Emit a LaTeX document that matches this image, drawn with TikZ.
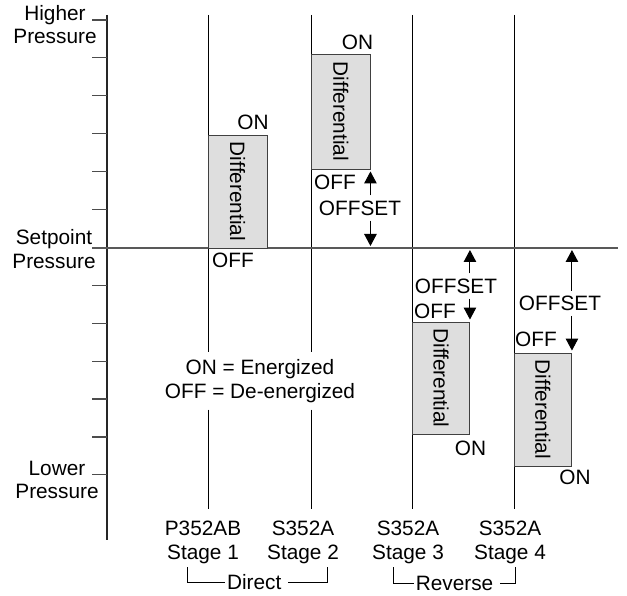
\documentclass[tikz,border=0pt]{standalone}
\usepackage{fontspec}
\setmainfont{Liberation Sans}
\usetikzlibrary{arrows.meta}
\begin{document}
\begin{tikzpicture}[x=1pt,y=-1pt,
  every node/.style={font=\fontsize{20.8}{23.5}\selectfont, inner sep=0pt},
  lbl/.style={align=center},
  axisline/.style={line width=1.3pt, black!85},
  tickline/.style={line width=1.2pt, black!70},
  setline/.style={line width=2pt, black!65},
  stageline/.style={line width=1pt, black},
  bracket/.style={line width=1pt, black},
  diffbox/.style={draw=black!75, line width=0.9pt, fill=black!13},
  arr/.style={line width=1pt, -{Triangle[width=12.5pt,length=12pt]}, shorten >=2pt},
]
\useasboundingbox (0,0) rectangle (627,596);

% axis and ticks
\coordinate (axtop) at (107,15);
\coordinate (axbot) at (107,540);
\draw[axisline] (axtop) -- (axbot);
\foreach \k in {0,1,2,3,4,5,7,8,9,10,11,12}
  \draw[tickline] (92,{20+37.9*\k}) -- (107,{20+37.9*\k});

% setpoint line
\coordinate (spL) at (92,248);
\coordinate (spR) at (618,248);

% axis labels
\node[lbl] (hp) at (55,24.8) {Higher\\Pressure};
\node[lbl] (sp) at (54,249) {Setpoint\\Pressure};
\node[lbl] (lp) at (57,480) {Lower\\Pressure};

% legend
\node[lbl, inner ysep=7pt, inner xsep=2pt] (legend) at (260,381) {ON = Energized\\OFF = De-energized};

% stage lines
\coordinate (t1) at (208,15);   \coordinate (u1) at (208,509);
\coordinate (t2) at (311.5,15); \coordinate (u2) at (311.5,509);
\coordinate (t3) at (412.5,15); \coordinate (u3) at (412.5,509);
\coordinate (t4) at (514,15);   \coordinate (u4) at (514,509);
\draw[stageline] (t1) -- (t1 |- legend.north) (legend.south -| t1) -- (u1);
\draw[stageline] (t2) -- (t2 |- legend.north) (legend.south -| t2) -- (u2);
\draw[stageline] (t3) -- (u3);
\draw[stageline] (t4) -- (u4);
\draw[setline] (spL) -- (spR);

% differential boxes
\node[diffbox, minimum width=59pt, minimum height=113pt] (box1) at (237.5,191.5) {\rotatebox{-90}{Differential}};
\node[diffbox, minimum width=58.5pt, minimum height=115pt] (box2) at (340.75,111.5) {\rotatebox{-90}{Differential}};
\node[diffbox, minimum width=57pt, minimum height=112pt] (box3) at (441,378) {\rotatebox{-90}{Differential}};
\node[diffbox, minimum width=57.5pt, minimum height=113pt] (box4) at (542.75,409.5) {\rotatebox{-90}{Differential}};

% ON / OFF labels
\node (on1) at (253,122) {ON};
\node (off1) at (233,260) {OFF};
\node (on2) at (357.5,42) {ON};
\node (off2) at (335,182) {OFF};
\node (on3) at (470.5,448) {ON};
\node (off3) at (435,311) {OFF};
\node (on4) at (575,477.5) {ON};
\node (off4) at (536,339) {OFF};

% offsets
\node[inner ysep=5pt] (os2) at (360,208) {OFFSET};
\node[inner ysep=5pt] (os3) at (456,286) {OFFSET};
\node[inner ysep=5pt] (os4) at (560,303.3) {OFFSET};
\draw[arr] (os2.north -| box2.east) -- (box2.south east);
\draw[arr] (os2.south -| box2.east) -- (box2.east |- spL);
\draw[arr] (os3.north -| box3.east) -- (box3.east |- spL);
\draw[arr] (os3.south -| box3.east) -- (box3.north east);
\draw[arr] (os4.north -| box4.east) -- (box4.east |- spL);
\draw[arr] (os4.south -| box4.east) -- (box4.north east);

% stage labels
\node[lbl] (st1) at (203,542.4) {P352AB\\Stage 1};
\node[lbl] (st2) at (303,542.4) {S352A\\Stage 2};
\node[lbl] (st3) at (408,542.4) {S352A\\Stage 3};
\node[lbl] (st4) at (510,542.4) {S352A\\Stage 4};

% brackets
\node (dir) at (254.2,582) {Direct};
\node (rev) at (454.5,583) {Reverse};
\coordinate (dl) at (187,567);
\coordinate (dr) at (327,567);
\coordinate (rl) at (393,567);
\coordinate (rr) at (515,567);
\draw[bracket] (dl) |- ([xshift=-2pt]dir.west);
\draw[bracket] (dr) |- ([xshift=6pt]dir.east);
\draw[bracket] (rl) |- ([xshift=-2pt]rev.west);
\draw[bracket] (rr) |- ([xshift=7pt]rev.east);
\end{tikzpicture}
\end{document}
